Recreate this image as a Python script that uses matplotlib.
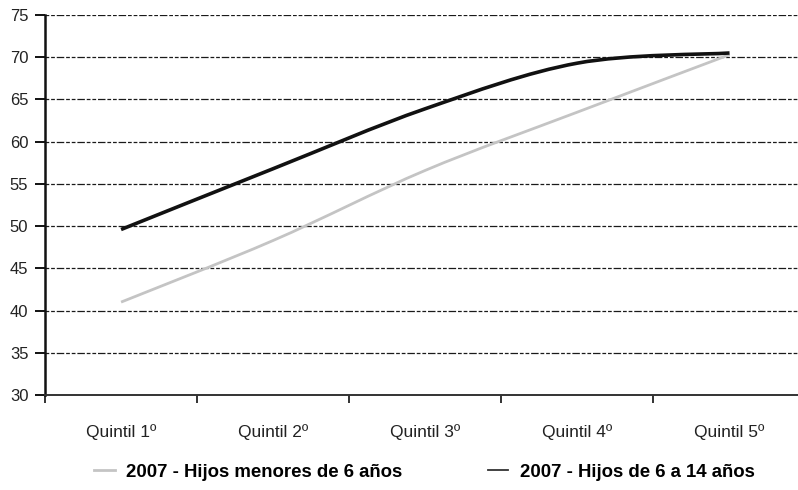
import matplotlib
matplotlib.use("Agg")
import matplotlib.pyplot as plt
from matplotlib.path import Path
from matplotlib.patches import PathPatch
from matplotlib.lines import Line2D

plt.rcParams['font.family'] = ['Liberation Sans', 'DejaVu Sans']

categories = ["Quintil 1º", "Quintil 2º", "Quintil 3º", "Quintil 4º", "Quintil 5º"]
menores6 = [41.0, 48.3, 56.6, 63.5, 70.3]
de6a14 = [49.6, 56.8, 63.9, 69.3, 70.5]
series_names = ["2007 - Hijos menores de 6 años", "2007 - Hijos de 6 a 14 años"]
yticks = [30, 35, 40, 45, 50, 55, 60, 65, 70, 75]


def smooth_path(xs, ys, t=1/6):
    verts = [(xs[0], ys[0])]
    codes = [Path.MOVETO]
    n = len(xs)
    for i in range(n - 1):
        x0, y0 = (xs[i - 1], ys[i - 1]) if i > 0 else (xs[i], ys[i])
        x1, y1 = xs[i], ys[i]
        x2, y2 = xs[i + 1], ys[i + 1]
        x3, y3 = (xs[i + 2], ys[i + 2]) if i + 2 < n else (xs[i + 1], ys[i + 1])
        c1 = (x1 + (x2 - x0) * t, y1 + (y2 - y0) * t)
        c2 = (x2 - (x3 - x1) * t, y2 - (y3 - y1) * t)
        verts += [c1, c2, (x2, y2)]
        codes += [Path.CURVE4] * 3
    return Path(verts, codes)


fig = plt.figure(figsize=(7.98, 4.9), dpi=100)
ax = fig.add_axes([45/798, 1 - 395/490, 1 - 45/798, 380/490])

xs = list(range(len(categories)))
for vals, col, lw in [(menores6, "#c4c4c4", 2.0), (de6a14, "#111111", 2.6)]:
    p = smooth_path(xs, vals)
    ax.add_patch(PathPatch(p, facecolor="none", edgecolor=col, lw=lw,
                           transform=ax.transData, zorder=3, capstyle="butt"))

ax.set_xlim(-0.5, 4.45)
ax.set_ylim(30, 75)
ax.set_yticks(yticks)
ax.set_yticklabels([str(v) for v in yticks], fontsize=12, color="#222222")
for v in yticks[1:]:
    ax.axhline(v, color="#1a1a1a", lw=0.9, ls=(0, (3, 1.5, 3, 1.5, 6, 1.5)), zorder=1)

ax.set_xticks([i + 0.5 for i in range(-1, 4)])
ax.set_xticklabels([])
ax.set_xticks(xs, minor=True)
ax.set_xticklabels(categories, minor=True, fontsize=12.5, color="#222222")
ax.tick_params(axis="x", which="minor", length=0, pad=21)
ax.tick_params(axis="x", which="major", length=6, width=1.4, direction="out", color="#333333")
ax.tick_params(axis="y", length=7, width=1.4, direction="out", color="#111111", pad=5)

for s in ["top", "right"]:
    ax.spines[s].set_visible(False)
ax.spines["left"].set_linewidth(1.8)
ax.spines["left"].set_color("#111111")
ax.spines["bottom"].set_linewidth(1.4)
ax.spines["bottom"].set_color("#333333")

handles = [Line2D([], [], color="#c4c4c4", lw=2), Line2D([], [], color="#333333", lw=1.3)]
fig.legend(handles, series_names, loc="center", bbox_to_anchor=(424.5/798, 1 - 472/490),
           ncol=2, frameon=False, prop={"weight": "bold", "size": 13.4},
           handlelength=1.1, columnspacing=4.6, handletextpad=0.6,
           borderpad=0, borderaxespad=0)

fig.savefig("out.png", dpi=100)
